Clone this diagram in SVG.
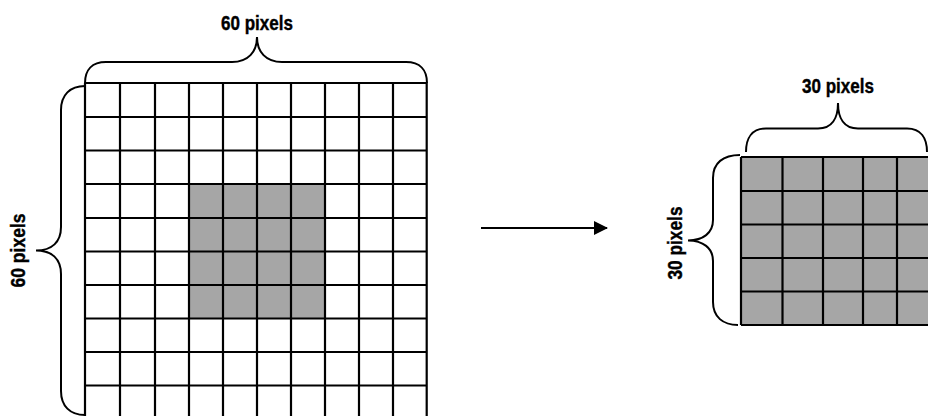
<svg xmlns="http://www.w3.org/2000/svg" width="928" height="416" viewBox="0 0 928 416">
<style>
.g{stroke:#000;stroke-width:2.2;fill:none}
.cell{fill:#a6a6a6;stroke:none}
.br{stroke:#000;stroke-width:2;fill:none}
.lbl{font-family:"Liberation Sans Narrow","Liberation Sans",Arial,sans-serif;font-weight:bold;font-size:21px;fill:#000;stroke:#000;stroke-width:0.4;text-anchor:middle}
</style>
<defs>
<marker id="ah" markerWidth="14" markerHeight="14" refX="13" refY="7" orient="auto" markerUnits="userSpaceOnUse">
<path d="M0,0 L14,7 L0,14 Z" fill="#000"/>
</marker>
</defs>
<rect width="928" height="416" fill="#fff"/>
<g id="source-grid">
<rect class="cell" x="189" y="184" width="136" height="134.5"/>
<path class="g" d="M85,83V416M120,83V416M155,83V416M189,83V416M223,83V416M257,83V416M291,83V416M325,83V416M359,83V416M393,83V416M426.7,83V416"/>
<path class="g" d="M85,83H426.7M85,117H426.7M85,150.5H426.7M85,184H426.7M85,218H426.7M85,251.5H426.7M85,285H426.7M85,318.5H426.7M85,352H426.7M85,385.5H426.7"/>
</g>
<g id="target-grid">
<rect class="cell" x="741" y="157" width="192" height="168"/>
<path class="g" d="M741,157V325M782.5,157V325M823,157V325M863,157V325M897,157V325"/>
<path class="g" d="M741,157H930M741,191H930M741,224.5H930M741,258H930M741,291.5H930M741,325H930"/>
</g>
<g id="source-width-brace">
<path class="br" d="M85,83 C85,70 92,62 106,62 L232,62 C248,62 257,52 257,37 C257,52 266,62 282,62 L406,62 C420,62 427,70 427,83"/>
<text class="lbl" x="257" y="29.5" textLength="72" lengthAdjust="spacingAndGlyphs">60 pixels</text>
</g>
<g id="source-height-brace">
<path class="br" d="M85,86 C70,86 61,95 61,110 L61,227 C61,242 52,250.5 36,250.5 C52,250.5 61,259 61,274 L61,391 C61,406 70,415 85,415"/>
<text class="lbl" transform="translate(25,250.5) rotate(-90)" x="0" y="0" textLength="74" lengthAdjust="spacingAndGlyphs">60 pixels</text>
</g>
<g id="target-width-brace">
<path class="br" d="M746,152 C746,138 752,128.5 766,128.5 L818,128.5 C832,128.5 838,118 838,103 C838,118 844,128.5 858,128.5 L907,128.5 C921,128.5 927,138 927,152"/>
<text class="lbl" x="838" y="92.7" textLength="72" lengthAdjust="spacingAndGlyphs">30 pixels</text>
</g>
<g id="target-height-brace">
<path class="br" d="M740,155 C723,155 713,163 713,178 L713,220 C713,233 703,240.5 688,240.5 C703,240.5 713,248 713,261 L713,302 C713,317 723,325 738,325"/>
<text class="lbl" transform="translate(681.5,243) rotate(-90)" x="0" y="0" textLength="73" lengthAdjust="spacingAndGlyphs">30 pixels</text>
</g>
<g id="connectors">
<line x1="481" y1="228" x2="607" y2="228" stroke="#000" stroke-width="2.2" marker-end="url(#ah)"/>
</g>
</svg>
